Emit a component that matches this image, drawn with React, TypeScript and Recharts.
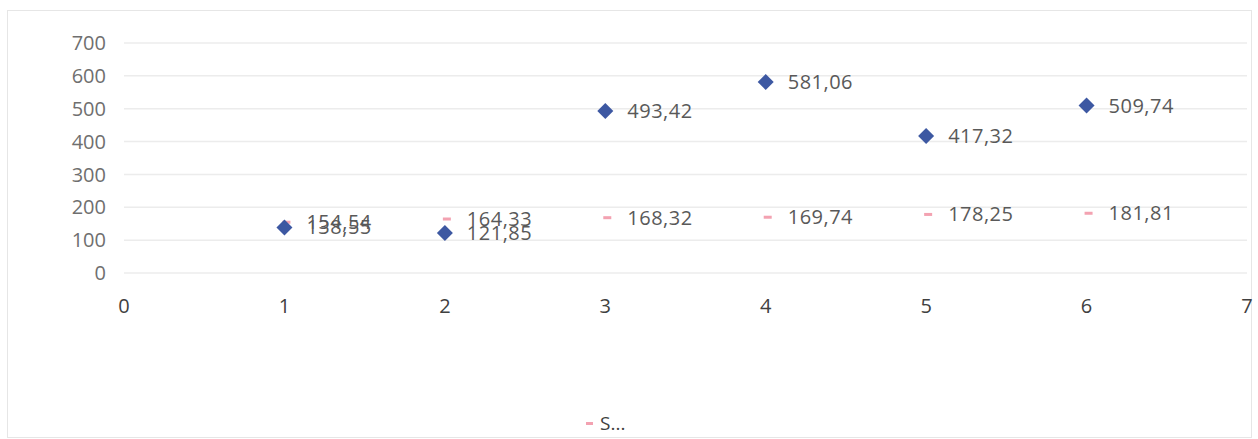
import { ScatterChart, Scatter, XAxis, YAxis, CartesianGrid, Legend, LabelList } from 'recharts';

const xValues = [1, 2, 3, 4, 5, 6];
const seriesBlue = [138.55, 121.85, 493.42, 581.06, 417.32, 509.74];
const seriesPink = [154.54, 164.33, 168.32, 169.74, 178.25, 181.81];
const xTicks = [0, 1, 2, 3, 4, 5, 6, 7];
const yTicks = [0, 100, 200, 300, 400, 500, 600, 700];
const legendLabel = 'S...';

const BLUE = '#3d58a2';
const PINK = '#f3a2b1';
const FONT = '"Open Sans", "Noto Sans", sans-serif';

const fmt = (v: number) => v.toFixed(2).replace('.', ',');

const blueData = xValues.map((x, i) => ({ x, y: seriesBlue[i], label: fmt(seriesBlue[i]) }));
const pinkData = xValues.map((x, i) => ({ x, y: seriesPink[i], label: fmt(seriesPink[i]) }));

const Diamond = (props: any) => {
  const { cx, cy } = props;
  const r = 8;
  return <polygon points={`${cx},${cy - r} ${cx + r},${cy} ${cx},${cy + r} ${cx - r},${cy}`} fill={BLUE} />;
};

const Dash = (props: any) => {
  const { cx, cy } = props;
  return <rect x={cx - 2} y={cy - 1.5} width={8} height={3} fill={PINK} />;
};

const renderLabel = (props: any) => {
  const { x, y, width, height, value } = props;
  const cx = x + width / 2;
  const cy = y + height / 2;
  return (
    <text x={cx + 22} y={cy} dy="0.35em" fill="#595959" fontSize={20} letterSpacing={0.5} fontFamily={FONT}>
      {value}
    </text>
  );
};

// zero-height box so the legend takes no room from the plot
const renderLegend = () => (
  <div style={{ height: 0, overflow: 'visible' }}>
    <div style={{ display: 'flex', alignItems: 'center', fontFamily: FONT, fontSize: 19, color: '#404040', lineHeight: '24px' }}>
      <span style={{ display: 'inline-block', width: 7, height: 3, background: PINK, marginRight: 7 }} />
      <span>{legendLabel}</span>
    </div>
  </div>
);

export default function App() {
  return (
    <div style={{ position: 'absolute', left: 0, top: 0, width: 1258, height: 439, background: '#fff' }}>
      <div style={{ position: 'absolute', left: 7, top: 10, width: 1243, height: 426, border: '1px solid #e6e6e6' }} />
      <div style={{ position: 'absolute', left: 0, top: 0 }}>
        <ScatterChart width={1258} height={439} margin={{ top: 43, right: 11, bottom: 0, left: 0 }}>
          <CartesianGrid vertical={false} stroke="#ececec" strokeWidth={1.5} />
          <XAxis
            type="number"
            dataKey="x"
            domain={[0, 7]}
            ticks={xTicks}
            axisLine={false}
            tickLine={false}
            tickSize={0}
            tickMargin={26}
            height={166}
            tick={{ fill: '#404040', fontSize: 20, fontFamily: FONT }}
          />
          <YAxis
            type="number"
            dataKey="y"
            domain={[0, 700]}
            ticks={yTicks}
            axisLine={false}
            tickLine={false}
            tickSize={0}
            tickMargin={18}
            width={124}
            tick={{ fill: '#6f6f6f', fontSize: 20, fontFamily: FONT }}
          />
          <Legend
            content={renderLegend}
            wrapperStyle={{ position: 'absolute', left: 586, top: 411, width: 'auto' }}
          />
          <Scatter name="S" data={pinkData} shape={Dash} isAnimationActive={false} legendType="none">
            <LabelList dataKey="label" content={renderLabel} />
          </Scatter>
          <Scatter name="B" data={blueData} shape={Diamond} isAnimationActive={false} legendType="none">
            <LabelList dataKey="label" content={renderLabel} />
          </Scatter>
        </ScatterChart>
      </div>
    </div>
  );
}
